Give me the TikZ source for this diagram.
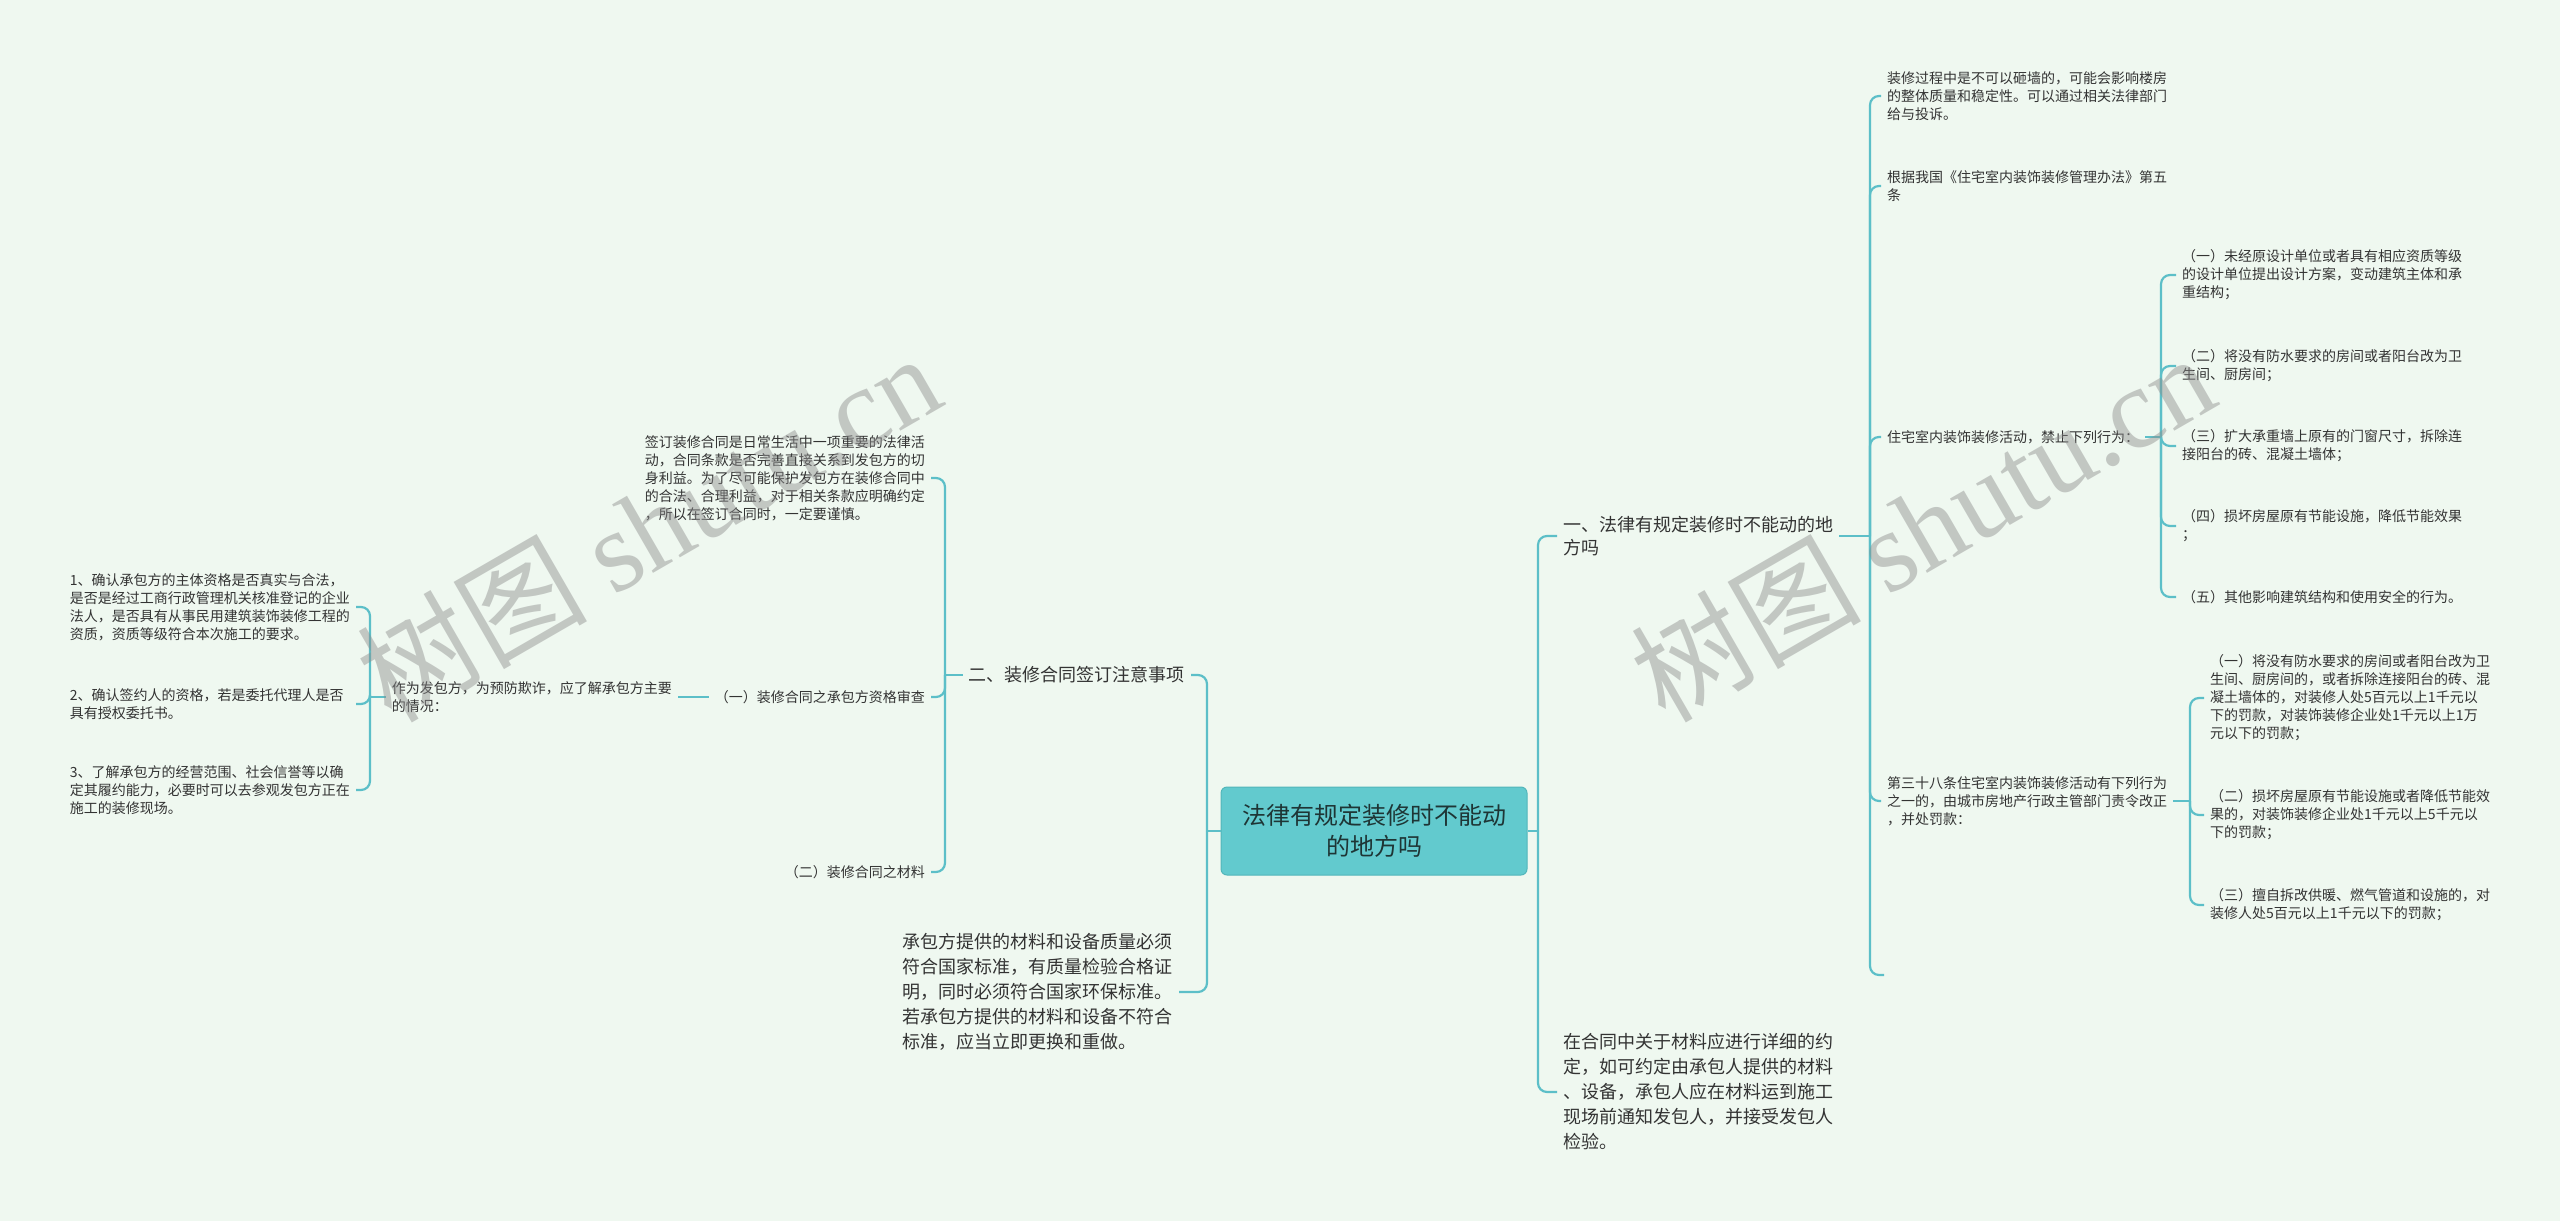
\documentclass[tikz,border=0pt]{standalone}
\usepackage{fontspec}
\setmainfont{Noto Sans CJK SC}
\newfontfamily\wmserif{Liberation Serif}
\definecolor{bg}{HTML}{EFF8F0}
\definecolor{ln}{HTML}{5CBFC8}
\definecolor{cfill}{HTML}{62CACE}
\definecolor{cdraw}{HTML}{52B6BA}
\definecolor{txt}{HTML}{333333}
\definecolor{ctxt}{HTML}{1E3535}
\tikzset{
  conn/.style={draw=ln, line width=2.2pt, rounded corners=9pt},
  small/.style={font=\fontsize{14}{18}\selectfont, text=txt, align=left, inner xsep=6pt, inner ysep=2pt},
  mid/.style={font=\fontsize{18}{25}\selectfont, text=txt, align=left, inner xsep=6pt, inner ysep=2pt},
  central/.style={minimum width=306pt, minimum height=88pt, rounded corners=6pt, fill=cfill, draw=cdraw, line width=1pt, font=\fontsize{24}{31}\selectfont, text=ctxt, align=center},
  wmark/.style={rotate=30, opacity=0.45, text=black!45, font=\fontsize{115}{115}\selectfont}
}
\begin{document}
\begin{tikzpicture}[x=1pt,y=-1pt]
\fill[bg] (0,0) rectangle (2560,1221);
\useasboundingbox (0,0) rectangle (2560,1221);

% root
\node[central] (root) at (1374,831) {法律有规定装修时不能动\\的地方吗};

% ---------- right side ----------
\coordinate (bR) at (1538,0);
\node[mid,anchor=west,font=\fontsize{18}{23}\selectfont] (one) at (1557,536) {一、法律有规定装修时不能动的地\\方吗};
\node[mid,anchor=west] (cr) at (1557,1092) {在合同中关于材料应进行详细的约\\定，如可约定由承包人提供的材料\\、设备，承包人应在材料运到施工\\现场前通知发包人，并接受发包人\\检验。};
\draw[conn] (root.east) -- (root.east -| bR);
\draw[conn] (root.east -| bR) |- (one.west);
\draw[conn] (root.east -| bR) |- (cr.west);

\coordinate (b1) at (1870,0);
\node[small,anchor=west] (a1) at (1881,96) {装修过程中是不可以砸墙的，可能会影响楼房\\的整体质量和稳定性。可以通过相关法律部门\\给与投诉。};
\node[small,anchor=west] (a2) at (1881,186) {根据我国《住宅室内装饰装修管理办法》第五\\条};
\node[small,anchor=west] (a3) at (1881,437) {住宅室内装饰装修活动，禁止下列行为：};
\node[small,anchor=west] (a4) at (1881,801) {第三十八条住宅室内装饰装修活动有下列行为\\之一的，由城市房地产行政主管部门责令改正\\，并处罚款：};
\coordinate (a5) at (1884,975);
\draw[conn] (one.east) -- (one.east -| b1);
\draw[conn] (one.east -| b1) |- (a1.west);
\draw[conn] (one.east -| b1) |- (a2.west);
\draw[conn] (one.east -| b1) |- (a3.west);
\draw[conn] (one.east -| b1) |- (a4.west);
\draw[conn] (one.east -| b1) |- (a5);

\coordinate (b3) at (2161,0);
\node[small,anchor=west] (s1) at (2176,275) {（一）未经原设计单位或者具有相应资质等级\\的设计单位提出设计方案，变动建筑主体和承\\重结构；};
\node[small,anchor=west] (s2) at (2176,366) {（二）将没有防水要求的房间或者阳台改为卫\\生间、厨房间；};
\node[small,anchor=west] (s3) at (2176,446) {（三）扩大承重墙上原有的门窗尺寸，拆除连\\接阳台的砖、混凝土墙体；};
\node[small,anchor=west] (s4) at (2176,526) {（四）损坏房屋原有节能设施，降低节能效果\\；};
\node[small,anchor=west] (s5) at (2176,597) {（五）其他影响建筑结构和使用安全的行为。};
\draw[conn] (a3.east) -- (a3.east -| b3);
\foreach \n in {s1,s2,s3,s4,s5} \draw[conn] (a3.east -| b3) |- (\n.west);

\coordinate (b4) at (2190,0);
\node[small,anchor=west] (f1) at (2204,698) {（一）将没有防水要求的房间或者阳台改为卫\\生间、厨房间的，或者拆除连接阳台的砖、混\\凝土墙体的，对装修人处5百元以上1千元以\\下的罚款，对装饰装修企业处1千元以上1万\\元以下的罚款；};
\node[small,anchor=west] (f2) at (2204,815) {（二）损坏房屋原有节能设施或者降低节能效\\果的，对装饰装修企业处1千元以上5千元以\\下的罚款；};
\node[small,anchor=west] (f3) at (2204,905) {（三）擅自拆改供暖、燃气管道和设施的，对\\装修人处5百元以上1千元以下的罚款；};
\draw[conn] (a4.east) -- (a4.east -| b4);
\foreach \n in {f1,f2,f3} \draw[conn] (a4.east -| b4) |- (\n.west);

% ---------- left side ----------
\coordinate (bL) at (1207,0);
\node[mid,anchor=east] (two) at (1191,675) {二、装修合同签订注意事项};
\node[mid,anchor=east] (mat) at (1179,992) {承包方提供的材料和设备质量必须\\符合国家标准，有质量检验合格证\\明，同时必须符合国家环保标准。\\若承包方提供的材料和设备不符合\\标准，应当立即更换和重做。};
\draw[conn] (root.west) -- (root.west -| bL);
\draw[conn] (root.west -| bL) |- (two.east);
\draw[conn] (root.west -| bL) |- (mat.east);

\coordinate (b2) at (945,0);
\node[small,anchor=east] (sg) at (931,478) {签订装修合同是日常生活中一项重要的法律活\\动，合同条款是否完善直接关系到发包方的切\\身利益。为了尽可能保护发包方在装修合同中\\的合法、合理利益，对于相关条款应明确约定\\，所以在签订合同时，一定要谨慎。};
\node[small,anchor=east] (q1) at (931,697) {（一）装修合同之承包方资格审查};
\node[small,anchor=east] (q2) at (931,872) {（二）装修合同之材料};
\draw[conn] (two.west) -- (two.west -| b2);
\foreach \n in {sg,q1,q2} \draw[conn] (two.west -| b2) |- (\n.east);

\node[small,anchor=east] (zw) at (678,697) {作为发包方，为预防欺诈，应了解承包方主要\\的情况：};
\draw[conn] (q1.west) -- (zw.east);

\coordinate (b5) at (370,0);
\node[small,anchor=east,text width=280pt] (p1) at (356,607) {1、确认承包方的主体资格是否真实与合法，\\是否是经过工商行政管理机关核准登记的企业\\法人，是否具有从事民用建筑装饰装修工程的\\资质，资质等级符合本次施工的要求。};
\node[small,anchor=east,text width=280pt] (p2) at (356,704) {2、确认签约人的资格，若是委托代理人是否\\具有授权委托书。};
\node[small,anchor=east,text width=280pt] (p3) at (356,790) {3、了解承包方的经营范围、社会信誉等以确\\定其履约能力，必要时可以去参观发包方正在\\施工的装修现场。};
\draw[conn] (zw.west) -- (zw.west -| b5);
\foreach \n in {p1,p2,p3} \draw[conn] (zw.west -| b5) |- (\n.east);

% watermarks
\node[wmark] (w1) at (648,526) {树图 {\wmserif shutu.cn}};
\node[wmark] (w2) at (1922,526) {树图 {\wmserif shutu.cn}};
\end{tikzpicture}
\end{document}
